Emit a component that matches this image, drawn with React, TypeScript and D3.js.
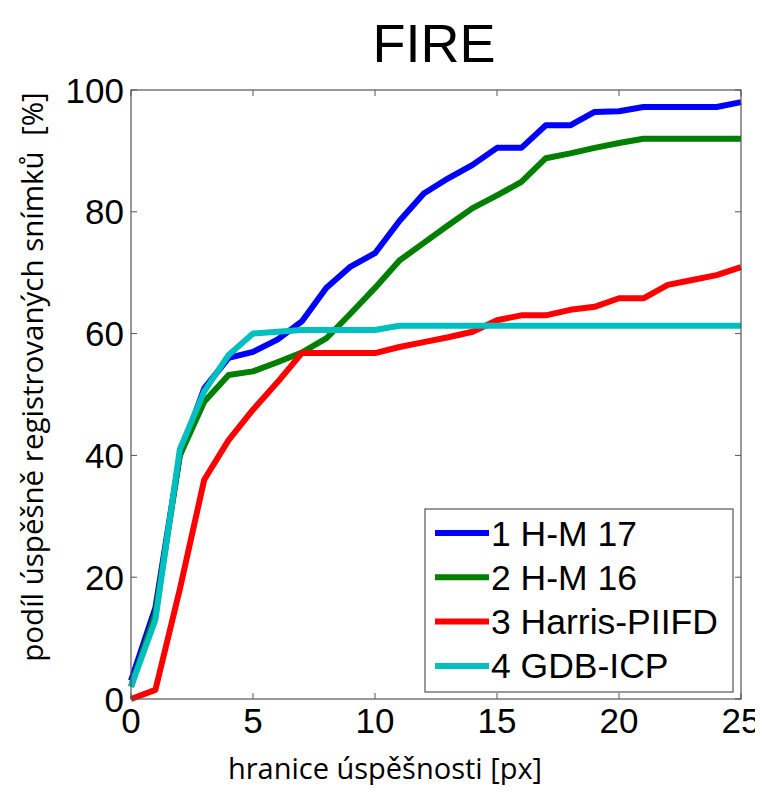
import * as d3 from "d3";
import { useEffect, useRef } from "react";

// x: hranice úspěšnosti [px], 0..25
const thresholds = d3.range(0, 26);

const hm17 = [3, 15, 40, 51, 56, 57, 59, 62, 67.5, 71, 73.2, 78.5, 83, 85.5, 87.7, 90.5, 90.5, 94.2, 94.2, 96.4, 96.5, 97.2, 97.2, 97.2, 97.2, 98];
const hm16 = [2, 14, 40, 48.8, 53.2, 53.8, 55.3, 56.9, 59.2, 63.3, 67.5, 72, 74.9, 77.8, 80.6, 82.7, 84.9, 88.8, 89.6, 90.5, 91.3, 92, 92, 92, 92, 92];
const harris = [0, 1.5, 18, 36, 42.5, 47.5, 52, 56.8, 56.8, 56.8, 56.8, 57.8, 58.6, 59.4, 60.3, 62.2, 63, 63, 63.9, 64.4, 65.8, 65.8, 68, 68.8, 69.6, 70.9];
const gdbIcp = [2, 13, 41, 50.5, 56.5, 60, 60.3, 60.6, 60.6, 60.6, 60.6, 61.3, 61.3, 61.3, 61.3, 61.3, 61.3, 61.3, 61.3, 61.3, 61.3, 61.3, 61.3, 61.3, 61.3, 61.3];

const seriesNames = ["1 H-M 17", "2 H-M 16", "3 Harris-PIIFD", "4 GDB-ICP"];
const seriesColors = ["#0000ff", "#007f00", "#ff0000", "#00bfbf"];
const seriesValues = [hm17, hm16, harris, gdbIcp];

const xTicks = [0, 5, 10, 15, 20, 25];
const yTicks = [0, 20, 40, 60, 80, 100];

function App() {
  const ref = useRef<SVGSVGElement>(null);

  useEffect(() => {
    const width = 763;
    const height = 793;
    // plot box
    const margin = { top: 90, right: 22, bottom: 94, left: 131 };
    const w = width - margin.left - margin.right;
    const h = height - margin.top - margin.bottom;

    const svg = d3.select(ref.current);
    svg.selectAll("*").remove();

    const g = svg.append("g").attr("transform", `translate(${margin.left},${margin.top})`);

    const xScale = d3.scaleLinear().domain([0, 25]).range([0, w]);
    const yScale = d3.scaleLinear().domain([0, 100]).range([h, 0]);

    const font = "'Liberation Sans', Arial, sans-serif";

    // lines
    const line = d3
      .line<number>()
      .x((d, i) => xScale(thresholds[i]))
      .y((d) => yScale(d));

    seriesValues.forEach((vals, k) => {
      g.append("path")
        .datum(vals)
        .attr("fill", "none")
        .attr("stroke", seriesColors[k])
        .attr("stroke-width", 6)
        .attr("stroke-linejoin", "round")
        .attr("d", line);
    });

    // box + inward ticks on all sides
    const axisColor = "#555";
    g.append("rect")
      .attr("width", w)
      .attr("height", h)
      .attr("fill", "none")
      .attr("stroke", axisColor)
      .attr("stroke-width", 1.2);

    const tl = 6;
    xTicks.forEach((t) => {
      g.append("line").attr("x1", xScale(t)).attr("x2", xScale(t)).attr("y1", h).attr("y2", h - tl).attr("stroke", axisColor);
      g.append("line").attr("x1", xScale(t)).attr("x2", xScale(t)).attr("y1", 0).attr("y2", tl).attr("stroke", axisColor);
      g.append("text")
        .attr("x", xScale(t))
        .attr("y", h + 34)
        .attr("text-anchor", "middle")
        .attr("font-family", font)
        .attr("font-size", 35)
        .text(t);
    });
    yTicks.forEach((t) => {
      g.append("line").attr("x1", 0).attr("x2", tl).attr("y1", yScale(t)).attr("y2", yScale(t)).attr("stroke", axisColor);
      g.append("line").attr("x1", w).attr("x2", w - tl).attr("y1", yScale(t)).attr("y2", yScale(t)).attr("stroke", axisColor);
      g.append("text")
        .attr("x", -7)
        .attr("y", yScale(t) + 12.5)
        .attr("text-anchor", "end")
        .attr("font-family", font)
        .attr("font-size", 35)
        .text(t);
    });

    // title
    svg.append("text")
      .attr("x", 434)
      .attr("y", 62)
      .attr("text-anchor", "middle")
      .attr("font-family", font)
      .attr("font-size", 54)
      .text("FIRE");

    // axis labels
    svg.append("text")
      .attr("x", 385)
      .attr("y", 779)
      .attr("text-anchor", "middle")
      .attr("font-family", "'Open Sans', sans-serif")
      .attr("font-size", 29)
      .text("hranice úspěšnosti [px]");

    svg.append("text")
      .attr("transform", `translate(43,${377}) rotate(-90)`)
      .attr("text-anchor", "middle")
      .attr("font-family", "'Open Sans', sans-serif")
      .attr("font-size", 29.5)
      .style("white-space", "pre")
      .text("podíl úspěšně registrovaných snímků  [%]");

    // legend
    const lg = svg.append("g").attr("transform", "translate(425,509)");
    lg.append("rect")
      .attr("width", 308)
      .attr("height", 183)
      .attr("fill", "#fff")
      .attr("stroke", axisColor)
      .attr("stroke-width", 1.2);
    seriesNames.forEach((name, k) => {
      const yy = 24 + k * 44.3;
      lg.append("line")
        .attr("x1", 10)
        .attr("x2", 64)
        .attr("y1", yy)
        .attr("y2", yy)
        .attr("stroke", seriesColors[k])
        .attr("stroke-width", 6);
      lg.append("text")
        .attr("x", 66)
        .attr("y", yy + 12.5)
        .attr("font-family", font)
        .attr("font-size", 35.5)
        .text(name);
    });
  }, []);

  return (
    <div>
      <svg ref={ref} width={763} height={793} style={{ display: "block", margin: -8 }} />
    </div>
  );
}

export default App;
